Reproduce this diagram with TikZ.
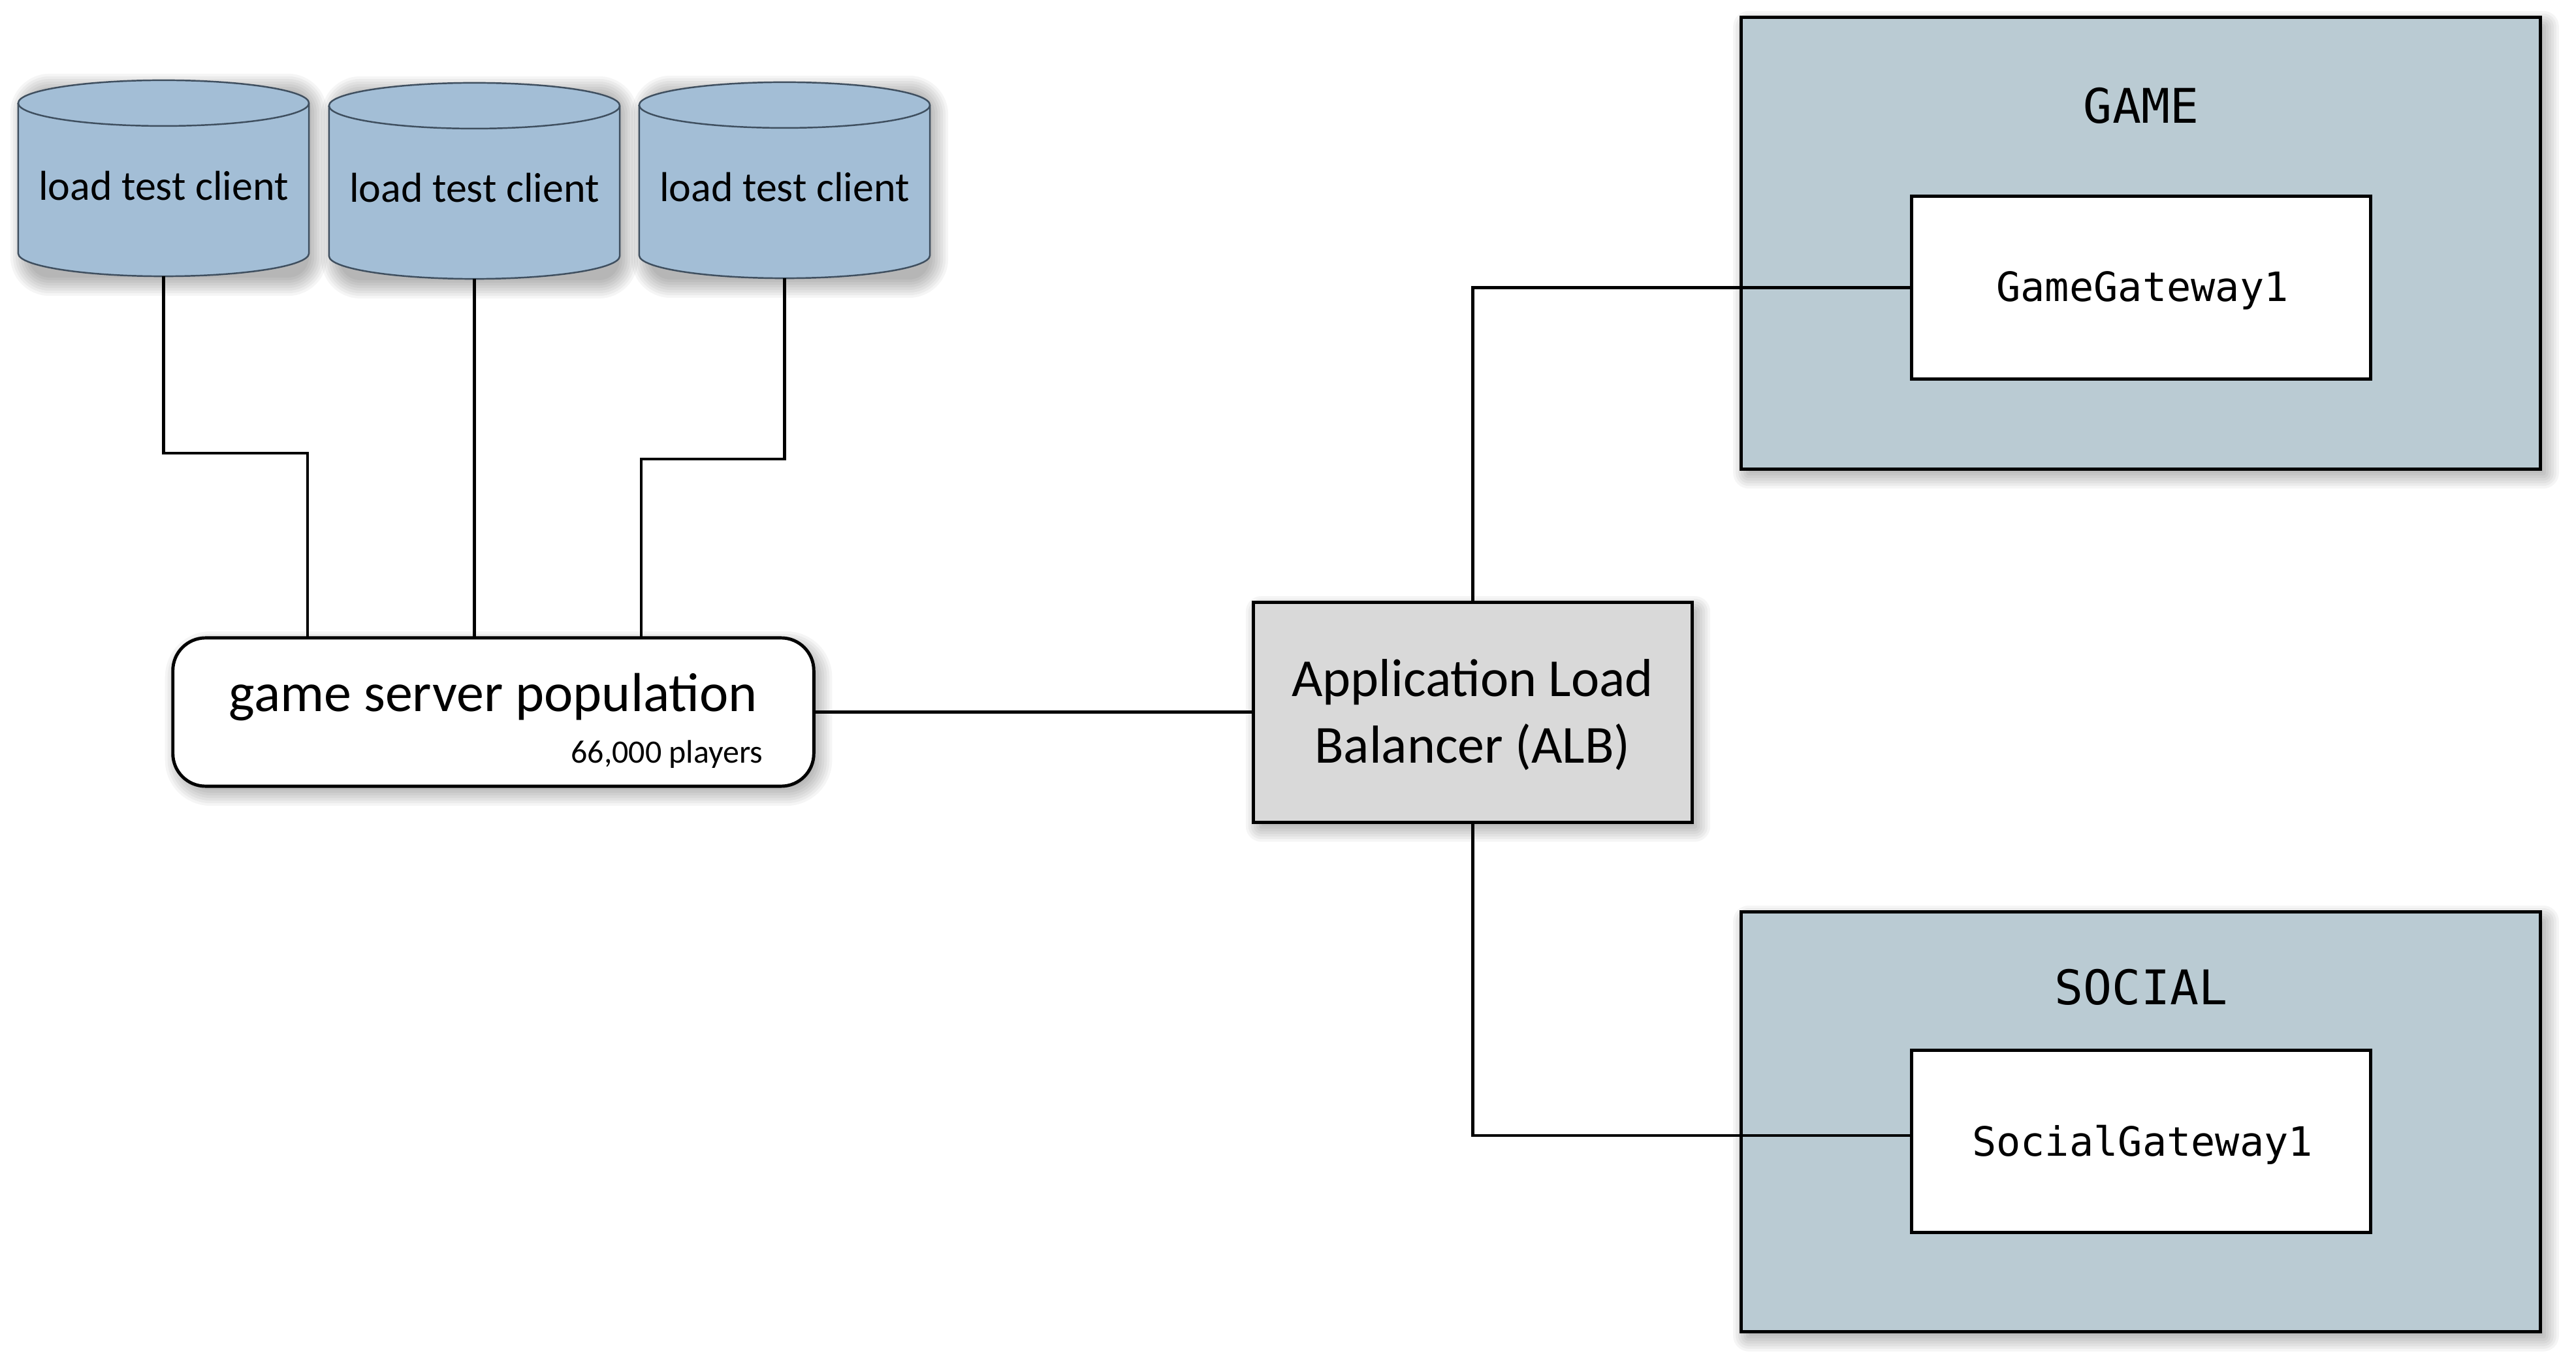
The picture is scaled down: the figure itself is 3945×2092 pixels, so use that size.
\documentclass[tikz,border=0pt]{standalone}
\usepackage{fontspec}
\setmainfont{Carlito}
\newfontfamily\monofont{DejaVu Sans Mono}
\usetikzlibrary{calc,backgrounds}
\definecolor{cylfill}{HTML}{A3BED6}
\definecolor{cyledge}{HTML}{3F4F5F}
\definecolor{zonefill}{HTML}{BACBD3}
\definecolor{albfill}{HTML}{D9D9D9}
\tikzset{
  conn/.style={draw=black, line width=1.2pt},
  frame/.style={rectangle, inner sep=0pt, outer sep=0pt},
  boxed/.style={frame, draw=black, line width=1.4pt},
  cylbody/.style={fill=cylfill, draw=cyledge, line width=0.7pt},
  cyltext/.style={anchor=base, inner sep=0pt, font=\fontsize{18.2}{22}\selectfont},
  bigtext/.style={anchor=base, inner sep=0pt, font=\fontsize{23.9}{28}\selectfont},
  smalltext/.style={anchor=base east, inner sep=0pt, font=\fontsize{14.2}{17}\selectfont},
  albtext/.style={anchor=base, inner sep=0pt, font=\fontsize{23.3}{28}\selectfont},
  zonetitle/.style={anchor=base, inner sep=0pt, font=\monofont\fontsize{20.8}{25}\selectfont},
  gatetext/.style={anchor=base, inner sep=0pt, font=\monofont\fontsize{17.6}{21}\selectfont},
}
\newcommand\softshade[2]{%
  \foreach \g in {-8,-4,0,4,8,12,16,20}{%
    \pgfmathsetmacro\rr{max(#2+\g,2)*0.01}%
    \fill[black,opacity=0.04,rounded corners=\rr cm]
      ($(#1.north west)+(8-\g,10-\g)$) rectangle ($(#1.south east)+(8+\g,10+\g)$);
  }}
\newcommand\drawcyl[1]{%
  \path[cylbody] ($(#1.north west)+(0,35)$) -- ($(#1.south west)+(0,-35)$)
    arc[start angle=180,end angle=360,x radius=2.225cm,y radius=0.35cm]
    -- ($(#1.north east)+(0,35)$)
    arc[start angle=0,end angle=180,x radius=2.225cm,y radius=0.35cm] -- cycle;
  \draw[cyledge, line width=0.7pt] ($(#1.north west)+(0,35)$)
    arc[start angle=180,end angle=360,x radius=2.225cm,y radius=0.35cm];
}
\begin{document}
\begin{tikzpicture}[x=0.01cm,y=-0.01cm]
\useasboundingbox (0,0) rectangle (3945,2092);
\begin{scope}[on background layer]
  \fill[white] (0,0) rectangle (3945,2092);
\end{scope}

% load test clients (cylinder frames)
\node[frame, minimum width=4.45cm, minimum height=3.00cm] (c1) at (250.5,273) {};
\node[frame, minimum width=4.45cm, minimum height=3.00cm] (c2) at (726.5,277) {};
\node[frame, minimum width=4.45cm, minimum height=3.00cm] (c3) at (1201.5,276) {};

% game server population
\node[boxed, fill=white, rounded corners=0.5cm, minimum width=9.81cm, minimum height=2.27cm] (gsp) at (755.5,1090.5) {};

% ALB
\node[boxed, fill=albfill, minimum width=6.71cm, minimum height=3.36cm] (alb) at (2255.5,1091) {};

% zones
\node[boxed, fill=zonefill, minimum width=12.24cm, minimum height=6.91cm] (game) at (3278.5,372.5) {};
\node[boxed, fill=white, minimum width=7.02cm, minimum height=2.79cm] (gg1) at (3279,440.5) {};
\node[boxed, fill=zonefill, minimum width=12.24cm, minimum height=6.425cm] (social) at (3278.5,1718.25) {};
\node[boxed, fill=white, minimum width=7.02cm, minimum height=2.78cm] (sg1) at (3279,1748) {};

% shadows
\begin{scope}[on background layer]
  \softshade{c1}{40}
  \softshade{c2}{40}
  \softshade{c3}{40}
  \softshade{gsp}{50}
  \softshade{alb}{4}
  \softshade{game}{4}
  \softshade{social}{4}
\end{scope}

% cylinders
\drawcyl{c1}
\drawcyl{c2}
\drawcyl{c3}
\node[cyltext] (c1t) at (250.5,307) {load test client};
\node[cyltext] (c2t) at (726.5,310) {load test client};
\node[cyltext] (c3t) at (1201.5,309) {load test client};

% texts
\node[bigtext] (gspt) at (755.5,1090) {game server population};
\node[smalltext] (gspn) at (1169,1168) {66,000 players};
\node[albtext] (alb1) at (2255,1067) {Application Load};
\node[albtext] (alb2) at (2255,1168) {Balancer (ALB)};
\node[zonetitle] (gamet) at (3279,189) {GAME};
\node[gatetext] (gg1t) at (3281,462) {GameGateway1};
\node[zonetitle] (socialt) at (3279,1538) {SOCIAL};
\node[gatetext] (sg1t) at (3281,1770) {SocialGateway1};

% connectors
\coordinate (k1) at (471,694);
\coordinate (k3) at (982,703);
\coordinate (sgin) at ($(sg1.west)+(0,-9)$);
\draw[conn] (c1.south) |- (k1) -- (k1 |- gsp.north);
\draw[conn] (c2.south) -- (c2.south |- gsp.north);
\draw[conn] (c3.south) |- (k3) -- (k3 |- gsp.north);
\draw[conn] (gsp.east) -- (gsp.east -| alb.west);
\draw[conn] (alb.north) |- (gg1.west);
\draw[conn] (alb.south) |- (sgin);
\end{tikzpicture}
\end{document}
